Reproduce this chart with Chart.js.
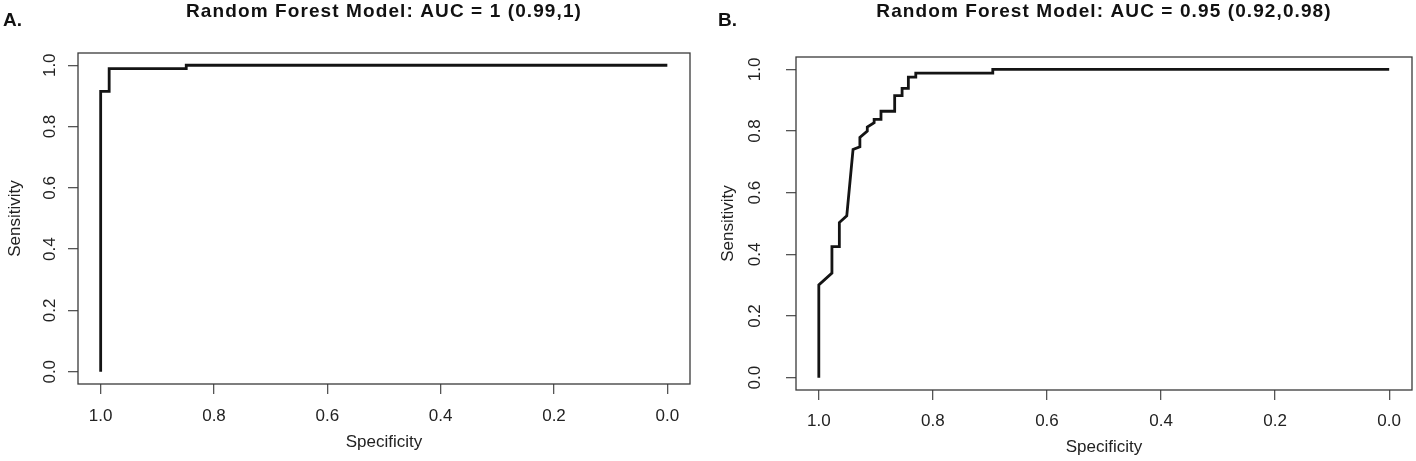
<!DOCTYPE html>
<html>
<head>
<meta charset="utf-8">
<title>ROC curves</title>
<script src="https://cdn.jsdelivr.net/npm/chart.js@4.4.1/dist/chart.umd.min.js"></script>
<style>
  html, body { margin: 0; padding: 0; background: #fff; }
  #wrap { position: relative; width: 1416px; height: 461px; }
  .panel { position: absolute; top: 0; width: 708px; height: 461px; }
</style>
</head>
<body>
<div id="wrap">
  <div class="panel" style="left:0"><canvas id="chartA" width="708" height="461"></canvas></div>
  <div class="panel" style="left:708px"><canvas id="chartB" width="708" height="461"></canvas></div>
</div>
<script>
// values
const specA = [1, 1, 0.985, 0.985, 0.849, 0.849, 0];
const sensA = [0, 0.915, 0.915, 0.989, 0.989, 1, 1];

const specB = [1, 1, 0.977, 0.977, 0.964, 0.964, 0.951, 0.94, 0.928, 0.928, 0.915, 0.915, 0.903, 0.903,
  0.891, 0.891, 0.867, 0.867, 0.854, 0.854, 0.843, 0.843, 0.83, 0.83, 0.695, 0.695, 0];
const sensB = [0, 0.301, 0.339, 0.425, 0.425, 0.503, 0.525, 0.74, 0.749, 0.779, 0.8, 0.813, 0.827, 0.838,
  0.838, 0.864, 0.864, 0.915, 0.915, 0.938, 0.938, 0.975, 0.975, 0.988, 0.988, 1, 1];

const tickVals = [0, 0.2, 0.4, 0.6, 0.8, 1.0];
const titleA = "Random Forest Model: AUC = 1 (0.99,1)";
const titleB = "Random Forest Model: AUC = 0.95 (0.92,0.98)";

const FONT = '"Liberation Sans", Arial, Helvetica, sans-serif';

// box round the plot + panel title + letter
const panelDecor = {
  id: "panelDecor",
  afterDraw(chart, args, opts) {
    const ctx = chart.ctx;
    const a = chart.chartArea;
    ctx.save();
    ctx.strokeStyle = "#3a3a3a";
    ctx.lineWidth = 1.3;
    ctx.strokeRect(a.left, a.top, a.right - a.left, a.bottom - a.top);

    ctx.fillStyle = "#111";
    ctx.font = "bold 19px " + FONT;
    ctx.letterSpacing = "1.1px";
    ctx.textAlign = "center";
    ctx.textBaseline = "middle";
    ctx.fillText(opts.title, (a.left + a.right) / 2, opts.titleY);
    ctx.letterSpacing = "0px";
    ctx.font = "bold 19px " + FONT;
    ctx.textAlign = "left";
    ctx.textBaseline = "alphabetic";
    ctx.fillText(opts.letter, opts.letterX, opts.letterY);
    ctx.restore();
  }
};

function setTicks(scale) {
  scale.ticks = tickVals.map((v) => ({ value: v }));
}

function makeRoc(id, spec, sens, g) {
  const pts = spec.map((s, i) => ({ x: s, y: sens[i] }));
  return new Chart(document.getElementById(id), {
    type: "scatter",
    data: {
      datasets: [{
        data: pts,
        showLine: true,
        borderColor: "#141414",
        borderWidth: 2.8,
        pointRadius: 0,
        tension: 0
      }]
    },
    options: {
      responsive: false,
      animation: false,
      layout: { padding: { top: g.top, right: g.right, left: 0, bottom: 0 } },
      plugins: {
        legend: { display: false },
        tooltip: { enabled: false },
        panelDecor: { title: g.title, titleY: 12, letter: g.letter, letterX: g.letterX, letterY: 26 }
      },
      scales: {
        x: {
          type: "linear",
          reverse: true,
          min: -0.04,
          max: 1.04,
          afterBuildTicks: setTicks,
          afterFit: (s) => { s.height = g.xh; },
          border: { display: false },
          grid: { drawOnChartArea: false, drawTicks: true, tickLength: 10, color: "#555", lineWidth: 1.3 },
          ticks: {
            autoSkip: false,
            maxRotation: 0,
            padding: g.xpad,
            color: "#222",
            font: { family: FONT, size: 17 },
            callback: (v) => Number(v).toFixed(1)
          },
          title: { display: true, text: "Specificity", color: "#222", font: { family: FONT, size: 17 }, padding: { top: 0, bottom: g.xtpad } }
        },
        y: {
          type: "linear",
          min: -0.04,
          max: 1.04,
          afterBuildTicks: setTicks,
          afterFit: (s) => { s.width = g.yw; },
          border: { display: false },
          grid: { drawOnChartArea: false, drawTicks: true, tickLength: 10, color: "#555", lineWidth: 1.3 },
          ticks: {
            autoSkip: false,
            minRotation: 90,
            maxRotation: 90,
            crossAlign: "center",
            padding: g.ypad,
            color: "#222",
            font: { family: FONT, size: 17 },
            callback: (v) => Number(v).toFixed(1)
          },
          title: { display: true, text: "Sensitivity", color: "#222", font: { family: FONT, size: 17 }, padding: { top: g.ytpad, bottom: 0 } }
        }
      }
    },
    plugins: [panelDecor]
  });
}

makeRoc("chartA", specA, sensA, {
  title: titleA, letter: "A.", letterX: 3,
  top: 53, right: 18, xh: 77, yw: 78,
  xpad: 12.5, xtpad: 8, ypad: 6, ytpad: 5
});
makeRoc("chartB", specB, sensB, {
  title: titleB, letter: "B.", letterX: 10,
  top: 57, right: 4, xh: 71, yw: 88,
  xpad: 11, xtpad: 3, ypad: 19, ytpad: 10
});
</script>
</body>
</html>
